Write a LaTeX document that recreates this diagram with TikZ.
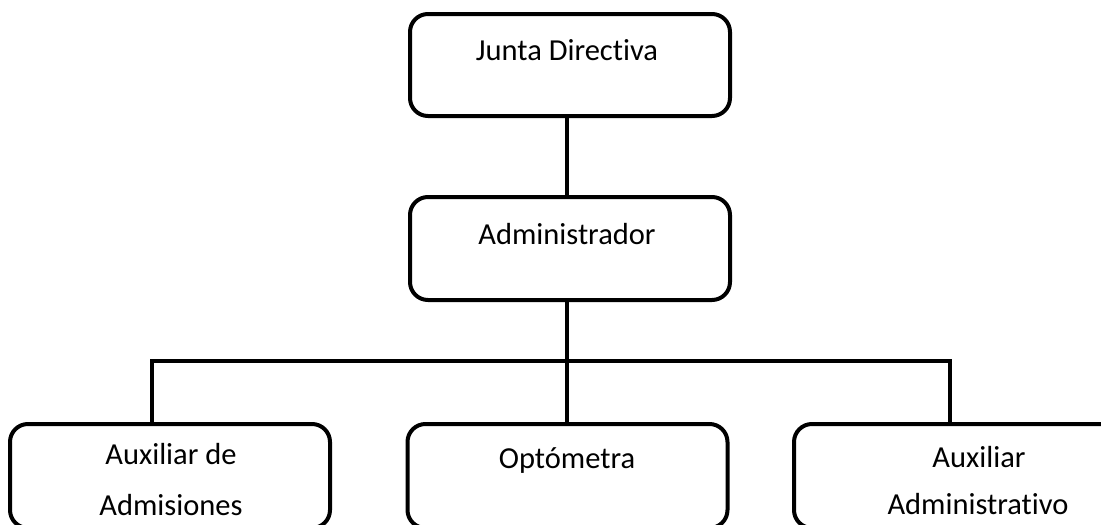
\documentclass[tikz,border=0pt]{standalone}
\usepackage{fontspec}
\setmainfont{Carlito}[RawFeature={-liga;-clig}]
\begin{document}
\begin{tikzpicture}[x=1pt,y=-1pt,
  unit/.style={draw=black,line width=4pt,rounded corners=18pt,
    minimum width=#1,minimum height=104pt,inner sep=0pt},
  unit/.default=320pt,
  wire/.style={line width=4pt,line join=miter},
  lbl/.style={anchor=base,inner sep=0pt,font=\fontsize{30.5}{37}\selectfont}]
\useasboundingbox (0,0) rectangle (1101,525);

% boxes
\node[unit,minimum height=102pt] (junta) at (570,65) {};
\node[unit,minimum height=103pt] (admin) at (570,248.5) {};
\node[unit] (auxadm) at (170,476) {};
\node[unit] (opto) at (567.5,476) {};
\node[unit=368pt] (auxadmin) at (978,476) {};

% connectors
\coordinate (hub) at (567,361);
\coordinate (hubL) at (152,361);
\coordinate (hubR) at (950,361);
\draw[wire] (junta.south -| hub) -- (admin.north -| hub);
\draw[wire] (admin.south -| hub) -- (opto.north -| hub);
\draw[wire] (auxadm.north -| hubL) -- (hubL) -- (hubR) -- (auxadmin.north -| hubR);

% labels
\node[lbl] (tJunta) at (567,60) {Junta Directiva};
\node[lbl] (tAdmin) at (567,244) {Administrador};
\node[lbl] (tAux1) at (171,464) {Auxiliar de};
\node[lbl] (tAux2) at (171,515) {Admisiones};
\node[lbl] (tOpt) at (567,468) {Optómetra};
\node[lbl] (tAA1) at (979,467) {Auxiliar};
\node[lbl] (tAA2) at (978,514) {Administrativo};
\end{tikzpicture}
\end{document}
